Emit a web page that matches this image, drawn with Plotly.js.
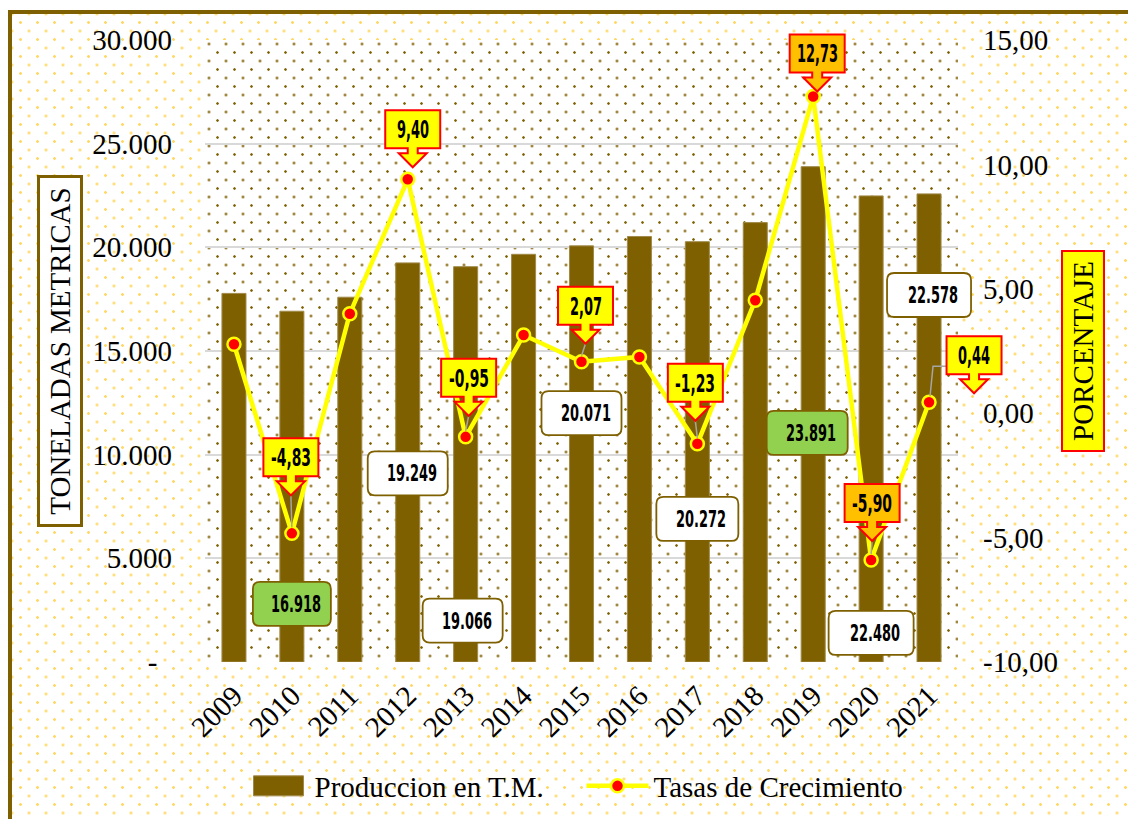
<!DOCTYPE html>
<html>
<head>
<meta charset="utf-8">
<script src="https://cdn.plot.ly/plotly-3.0.1.min.js"></script>
<style>
  html, body { margin: 0; padding: 0; background: #ffffff; overflow: hidden; }
  #stage { position: relative; width: 1128px; height: 819px; overflow: hidden; }
  #frame {
    position: absolute; left: 8px; top: 10px; width: 1200px; height: 900px;
    border-left: 4px solid #7F6000; border-top: 4px solid #7F6000;
    background-color: #ffffff;
    background-image: radial-gradient(circle, #FFD966 1px, rgba(255,217,102,0) 1.7px),
                      radial-gradient(circle, #FFD966 1px, rgba(255,217,102,0) 1.7px);
    background-size: 17px 17px, 17px 17px;
    background-position: 0 0, 8.5px 8.5px;
  }
  #plotbg {
    position: absolute; background-color: #ffffff;
    background-image: radial-gradient(circle, #7F6000 0.9px, rgba(127,96,0,0) 1.6px),
                      radial-gradient(circle, #7F6000 0.9px, rgba(127,96,0,0) 1.6px);
    background-size: 17px 17px, 17px 17px;
    background-position: 4px 4px, 12.5px 12.5px;
  }
  #chart { position: absolute; left: 0; top: 0; width: 1128px; height: 819px; }
</style>
</head>
<body>
<div id="stage">
  <div id="frame"></div>
  <div id="plotbg"></div>
  <div id="chart"></div>
</div>
<script>
// ---------------- DATA ----------------
const years = ['2009','2010','2011','2012','2013','2014','2015','2016','2017','2018','2019','2020','2021'];
const production = [17777, 16918, 17595, 19249, 19066, 19664, 20071, 20524, 20272, 21193, 23891, 22480, 22578];
const growthRates = [2.77, -4.83, 4.00, 9.40, -0.95, 3.14, 2.07, 2.26, -1.23, 4.54, 12.73, -5.90, 0.44];
const labeledYears = ['2010','2012','2013','2015','2017','2019','2020','2021'];
const seriesNames = ['Produccion en T.M.', 'Tasas de Crecimiento'];
const leftTickVals = [0, 5000, 10000, 15000, 20000, 25000, 30000];
const rightTickVals = [-10, -5, 0, 5, 10, 15];

// ---------------- LAYOUT / STYLE ----------------
const W = 1128, H = 819;
const ML = 205, MT = 40, PW = 753, PH = 622;
const Y1 = [0, 30000], Y2 = [-10, 15];
const BROWN = '#7F6000';
const SERIF = '"Liberation Serif", "Times New Roman", serif';
const NARROW = '"DejaVu Sans Condensed", "Liberation Sans Narrow", sans-serif';
const FS = 29;
const CALLOUT_FS = 25;
const LABEL_FS = 23;

const pb = document.getElementById('plotbg');
pb.style.left = ML + 'px'; pb.style.top = MT + 'px';
pb.style.width = PW + 'px'; pb.style.height = PH + 'px';

// label placement (pixels / axis units) — styling, not data
const prodLabelStyle = {
  '2010': {y: 2800, dx: 0, w: 78, fill: '#92D050'},
  '2012': {y: 9100, dx: 0, w: 80, fill: '#FFFFFF'},
  '2013': {y: 2000, dx: -3, w: 80, fill: '#FFFFFF'},
  '2015': {y: 12000, dx: 0, w: 80, fill: '#FFFFFF'},
  '2017': {y: 6900, dx: 0, w: 82, fill: '#FFFFFF'},
  '2019': {y: 11050, dx: -6, w: 81, fill: '#92D050'},
  '2020': {y: 1400, dx: 0, w: 85, fill: '#FFFFFF'},
  '2021': {y: 17700, dx: 0, w: 84, fill: '#FFFFFF'}
};
const rateCallStyle = {
  '2010': {dx: -1, dy: 57, fill: '#FFFF00', leader: true},
  '2012': {dx: 5, dy: 31, fill: '#FFFF00', leader: false},
  '2013': {dx: 3, dy: 40, fill: '#FFFF00', leader: true},
  '2015': {dx: 4, dy: 37, fill: '#FFFF00', leader: true},
  '2017': {dx: -2, dy: 42, fill: '#FFFF00', leader: true},
  '2019': {dx: 4, dy: 24, fill: '#FFC000', leader: false},
  '2020': {dx: 1, dy: 38, fill: '#FFC000', leader: true},
  '2021': {dx: 45, dy: 28, fill: '#FFFF00', leader: 'elbow'}
};

function fmtThousands(v) {
  return String(Math.round(v)).replace(/\B(?=(\d{3})+(?!\d))/g, '.');
}
function fmtDec(v) {
  return v.toFixed(2).replace('.', ',');
}
// width of the narrow label face: digits 9px, separators 5px, minus 8px
function narrowWidth(s) {
  let w = 0;
  for (const ch of s) w += /\d/.test(ch) ? 9 : (ch === '-' ? 8 : 5);
  return w;
}
const xFrac = i => (i + 0.5) / years.length;
const y1Frac = v => (v - Y1[0]) / (Y1[1] - Y1[0]);
const y2Frac = v => (v - Y2[0]) / (Y2[1] - Y2[0]);

const shapes = [];
const annotations = [];
const narrowTexts = new Set();

// callouts for growth rates
const CW = 55, CH = 38;
labeledYears.forEach(yr => {
  const i = years.indexOf(yr);
  const st = rateCallStyle[yr];
  const bx = st.dx, by = st.dy;
  const p = [
    'M', bx - CW/2, by, 'L', bx - 5, by, 'L', bx - 5, by - 5, 'L', bx - 14, by - 5,
    'L', bx, by - 19, 'L', bx + 14, by - 5, 'L', bx + 5, by - 5, 'L', bx + 5, by,
    'L', bx + CW/2, by, 'L', bx + CW/2, by + CH, 'L', bx - CW/2, by + CH, 'Z'
  ].join(' ');
  if (st.leader === true) {
    shapes.push({type: 'path', layer: 'above', xref: 'x domain', yref: 'y domain',
      xsizemode: 'pixel', ysizemode: 'pixel', xanchor: xFrac(i), yanchor: y2Frac(growthRates[i]),
      path: `M ${bx} ${by - 19} L 0 6`, line: {color: '#A6A6A6', width: 1.5}});
  } else if (st.leader === 'elbow') {
    shapes.push({type: 'path', layer: 'above', xref: 'x domain', yref: 'y domain',
      xsizemode: 'pixel', ysizemode: 'pixel', xanchor: xFrac(i), yanchor: y2Frac(growthRates[i]),
      path: `M 1 6 L 4 ${by + 8} L ${bx - CW/2} ${by + 8}`, line: {color: '#A6A6A6', width: 1.5}});
  }
  shapes.push({type: 'path', layer: 'above', xref: 'x domain', yref: 'y domain',
    xsizemode: 'pixel', ysizemode: 'pixel', xanchor: xFrac(i), yanchor: y2Frac(growthRates[i]),
    path: p, fillcolor: st.fill, line: {color: '#FF0000', width: 2}});
  const t = fmtDec(growthRates[i]);
  narrowTexts.add(t);
  annotations.push({xref: 'x', yref: 'y2', x: i, y: growthRates[i], xshift: bx, yshift: by + CH/2,
    xanchor: 'center', yanchor: 'middle', width: narrowWidth(t) + 6, height: 30,
    text: t, showarrow: false, font: {family: NARROW, size: CALLOUT_FS, color: '#000000', weight: 'bold'}});
});

// data labels for production
const LH = 44, LR = 7;
labeledYears.forEach(yr => {
  const i = years.indexOf(yr);
  const st = prodLabelStyle[yr];
  const w = st.w;
  const x0 = st.dx - w/2, x1 = st.dx + w/2, y0 = -LH/2, y1 = LH/2;
  const r = LR;
  const p = `M ${x0 + r} ${y0} L ${x1 - r} ${y0} Q ${x1} ${y0} ${x1} ${y0 + r} L ${x1} ${y1 - r} Q ${x1} ${y1} ${x1 - r} ${y1} L ${x0 + r} ${y1} Q ${x0} ${y1} ${x0} ${y1 - r} L ${x0} ${y0 + r} Q ${x0} ${y0} ${x0 + r} ${y0} Z`;
  shapes.push({type: 'path', layer: 'above', xref: 'x domain', yref: 'y domain',
    xsizemode: 'pixel', ysizemode: 'pixel', xanchor: xFrac(i), yanchor: y1Frac(st.y),
    path: p, fillcolor: st.fill, line: {color: BROWN, width: 1.8}});
  const t = fmtThousands(production[i]);
  narrowTexts.add(t);
  annotations.push({xref: 'x', yref: 'y', x: i, y: st.y, xshift: st.dx + 4, yshift: 0,
    xanchor: 'center', yanchor: 'middle', width: narrowWidth(t) + 6, height: 30,
    text: t, showarrow: false, font: {family: NARROW, size: LABEL_FS, color: '#000000', weight: 'bold'}});
});

// axis title boxes
const pxX = px => (px - ML) / PW;
const pxY = py => (MT + PH - py) / PH;
annotations.push({xref: 'paper', yref: 'paper', x: pxX(60), y: pxY(351), xanchor: 'center', yanchor: 'middle',
  text: 'TONELADAS METRICAS', textangle: -90, showarrow: false, font: {family: SERIF, size: FS, color: '#000000'},
  bgcolor: '#FFFFFF', bordercolor: BROWN, borderwidth: 3, borderpad: 2, width: 342, height: 36});
annotations.push({xref: 'paper', yref: 'paper', x: pxX(1083), y: pxY(351), xanchor: 'center', yanchor: 'middle',
  text: 'PORCENTAJE', textangle: -90, showarrow: false, font: {family: SERIF, size: FS, color: '#000000'},
  bgcolor: '#FFFF00', bordercolor: '#FF0000', borderwidth: 2, borderpad: 2, width: 194, height: 36});

const traces = [
  {type: 'bar', name: seriesNames[0], x: years, y: production, yaxis: 'y',
   marker: {color: BROWN, line: {color: '#A08A4A', width: 1}}, hoverinfo: 'skip'},
  {type: 'scatter', mode: 'lines+markers', name: seriesNames[1], x: years, y: growthRates, yaxis: 'y2',
   line: {color: '#FFFF00', width: 4.5}, marker: {color: '#FF0000', size: 13, line: {color: '#FFFF00', width: 2.5}},
   cliponaxis: false, hoverinfo: 'skip'}
];

const layout = {
  width: W, height: H, autosize: false,
  margin: {l: ML, r: W - ML - PW, t: MT, b: H - MT - PH, pad: 0, autoexpand: false},
  paper_bgcolor: 'rgba(0,0,0,0)', plot_bgcolor: 'rgba(0,0,0,0)',
  bargap: 0.585,
  showlegend: true,
  legend: {orientation: 'h', x: 0.5, xanchor: 'center', y: pxY(786), yanchor: 'middle',
    font: {family: SERIF, size: FS, color: '#000000'}, bgcolor: 'rgba(0,0,0,0)',
    itemwidth: 62, entrywidth: 262, tracegroupgap: 0},
  xaxis: {type: 'category', range: [-0.5, years.length - 0.5], tickangle: -45,
    tickfont: {family: SERIF, size: FS, color: '#000000'}, showgrid: false, zeroline: false,
    showline: false, ticks: '', ticklabelstandoff: 10},
  yaxis: {range: Y1, tickvals: leftTickVals,
    ticktext: leftTickVals.map(v => v === 0 ? '-\u00a0\u00a0' : fmtThousands(v)),
    tickfont: {family: SERIF, size: FS, color: '#000000'}, showgrid: true, gridcolor: '#D9D9D9', gridwidth: 2,
    zeroline: false, showline: false, ticks: '', ticklabelstandoff: 32},
  yaxis2: {range: Y2, overlaying: 'y', side: 'right', tickvals: rightTickVals,
    ticktext: rightTickVals.map(fmtDec), tickfont: {family: SERIF, size: FS, color: '#000000'},
    showgrid: false, zeroline: false, showline: false, ticks: '', ticklabelstandoff: 24},
  shapes: shapes,
  annotations: annotations
};

Plotly.newPlot('chart', traces, layout, {staticPlot: true, displayModeBar: false}).then(gd => {
  // widen the bar legend swatch to a flat rectangle as in the source chart
  const items = gd.querySelectorAll('.legend .traces');
  if (items.length) {
    items[0].querySelectorAll('.legendpoints path').forEach(el => {
      el.setAttribute('d', 'M25,10H-25V-10H25Z');
    });
  }
  // condense the data-label text (source uses a narrow face)
  gd.querySelectorAll('text.annotation-text').forEach(el => {
    const s = el.textContent;
    if (narrowTexts.has(s)) {
      el.setAttribute('textLength', narrowWidth(s));
      el.setAttribute('lengthAdjust', 'spacingAndGlyphs');
    }
  });
});
</script>
</body>
</html>
